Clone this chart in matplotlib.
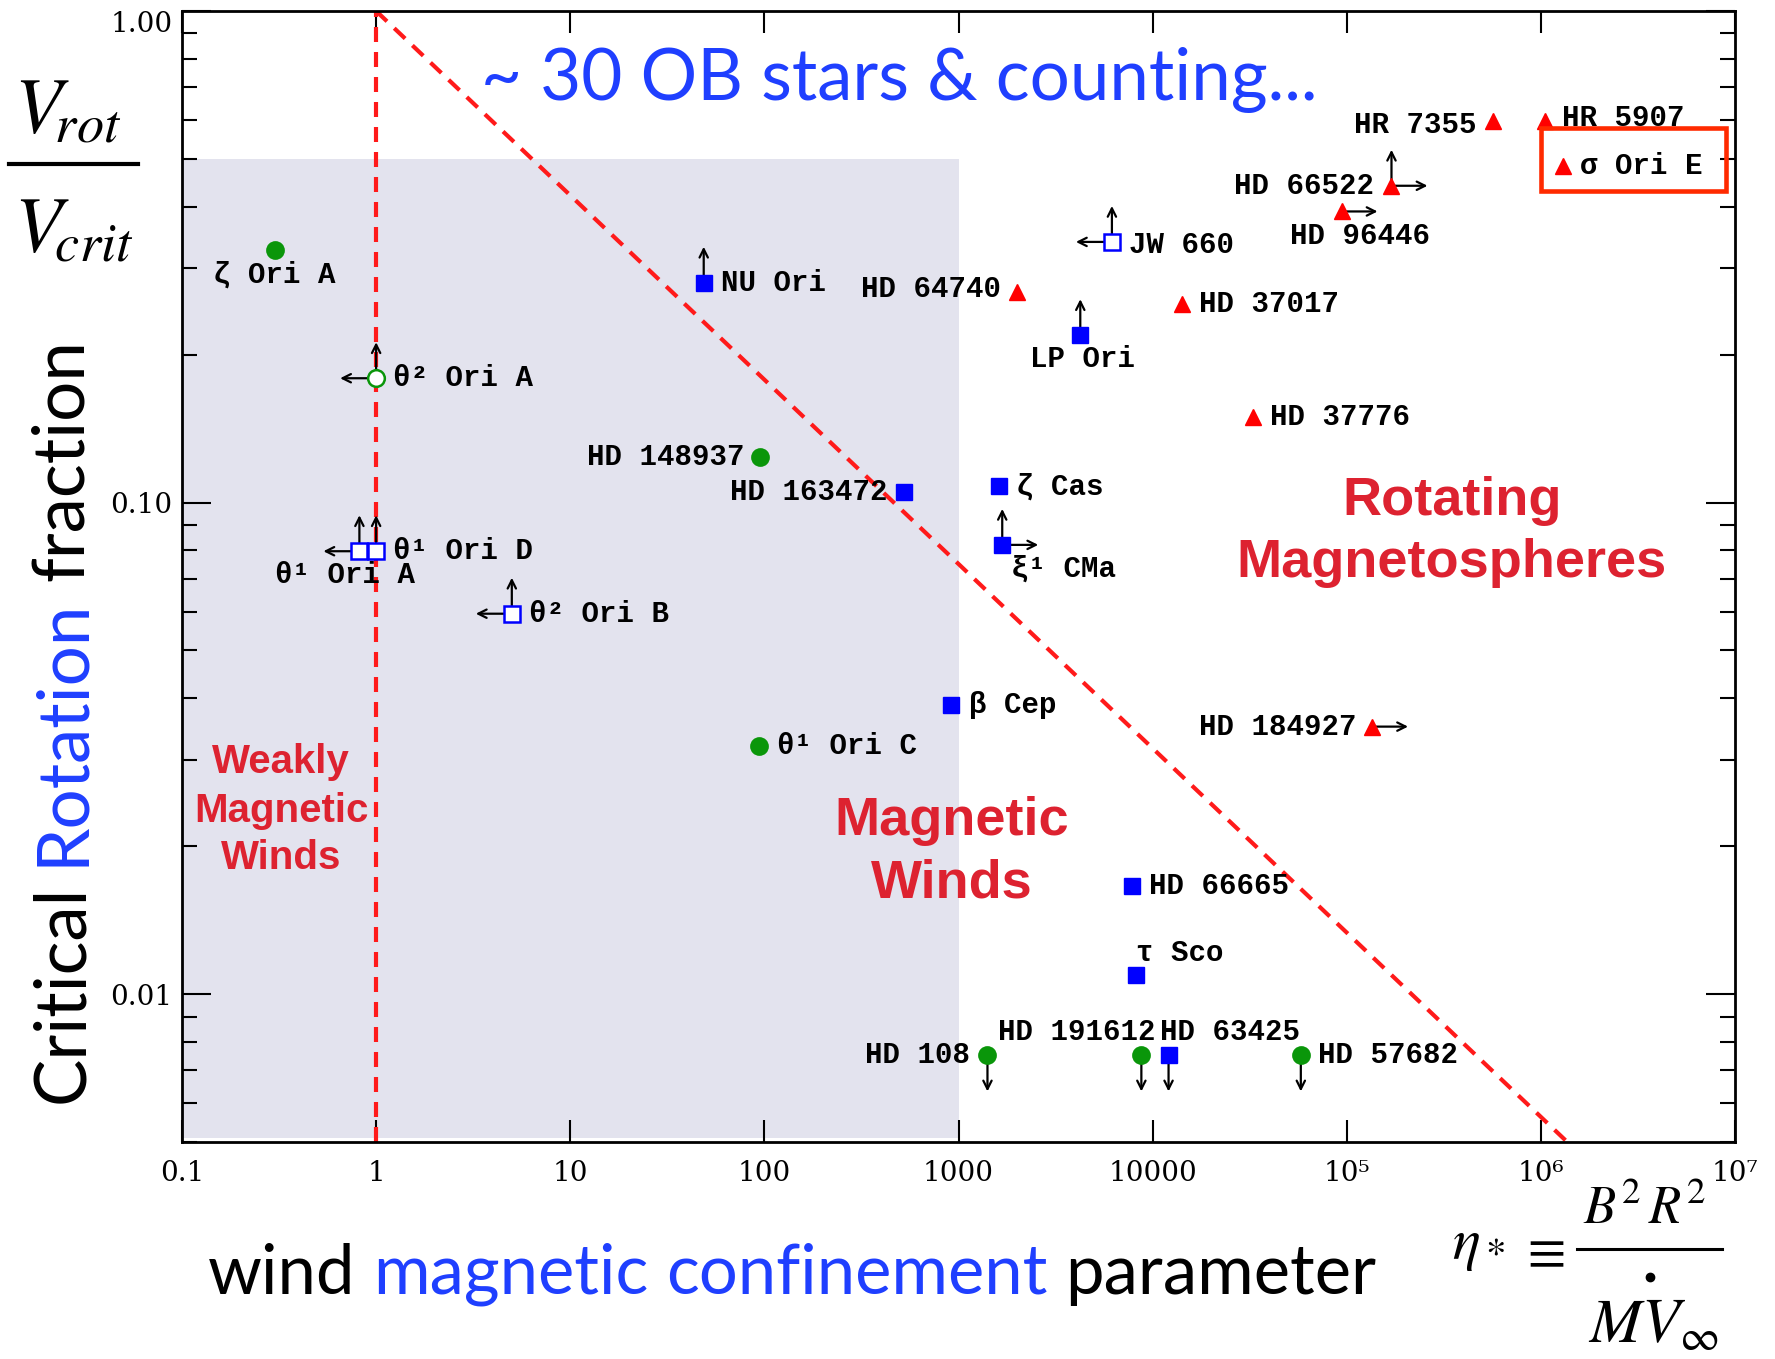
import matplotlib
matplotlib.use("Agg")
import matplotlib.pyplot as plt
from matplotlib.patches import Rectangle
from matplotlib.lines import Line2D
from matplotlib.transforms import IdentityTransform
from matplotlib.ticker import FixedLocator, NullLocator, LogLocator, FixedFormatter, NullFormatter

plt.rcParams["mathtext.fontset"] = "stix"

# ---------------------------------------------------------------- data
star_names = [
    "ζ Ori A", "θ² Ori A", "HD 148937", "θ¹ Ori C", "HD 108", "HD 191612", "HD 57682",
    "θ¹ Ori A", "θ¹ Ori D", "θ² Ori B", "JW 660", "NU Ori", "HD 163472", "ζ Cas",
    "ξ¹ CMa", "β Cep", "HD 66665", "τ Sco", "LP Ori", "HD 63425",
    "HD 64740", "HD 37017", "HD 37776", "HD 184927", "HD 96446", "HD 66522",
    "HR 7355", "HR 5907", "σ Ori E",
]
eta_star = [
    0.30, 1.0, 95, 94, 1410, 8750, 58000,
    0.82, 1.0, 5.0, 6170, 48.7, 522, 1610,
    1680, 918, 7850, 8180, 4240, 12080,
    2000, 14190, 33000, 135000, 94000, 170000,
    568000, 1.05e6, 1.30e6,
]
rot_fraction = [
    0.327, 0.179, 0.124, 0.032, 0.0075, 0.0075, 0.0075,
    0.0796, 0.0796, 0.0594, 0.339, 0.280, 0.105, 0.108,
    0.082, 0.0387, 0.01655, 0.01094, 0.219, 0.0075,
    0.268, 0.253, 0.149, 0.035, 0.391, 0.441,
    0.598, 0.598, 0.483,
]
# O = O-type wind star, B = B-type star, CM = centrifugal magnetosphere
star_group = [
    "O", "O", "O", "O", "O", "O", "O",
    "B", "B", "B", "B", "B", "B", "B",
    "B", "B", "B", "B", "B", "B",
    "CM", "CM", "CM", "CM", "CM", "CM",
    "CM", "CM", "CM",
]
# measurement is itself a limit (hollow symbol)
is_limit_point = [
    False, True, False, False, False, False, False,
    True, True, True, True, False, False, False,
    False, False, False, False, False, False,
    False, False, False, False, False, False,
    False, False, False,
]
# limit directions: u=up, d=down, l=left, r=right
limit_dirs = [
    "", "ul", "", "", "d", "d", "d",
    "ul", "u", "ul", "ul", "u", "", "",
    "ur", "", "", "", "u", "d",
    "", "", "", "r", "r", "ur",
    "", "", "",
]

x_tick_values = [0.1, 1, 10, 100, 1000, 1e4, 1e5, 1e6, 1e7]
x_tick_labels = ["0.1", "1", "10", "100", "1000", "10000", "10⁵", "10⁶", "10⁷"]
y_tick_values = [0.01, 0.1, 1.0]
y_tick_labels = ["0.01", "0.10", "1.00"]

# ---------------------------------------------------------------- layout
W, H, DPI = 1775, 1359, 100
fig = plt.figure(figsize=(W / DPI, H / DPI), dpi=DPI)
fig.patch.set_facecolor("white")


def fx(px):
    return px / W


def fy(py):
    return 1 - py / H


ax_l, ax_r, ax_t, ax_b = 182, 1735, 11, 1142
ax = fig.add_axes([fx(ax_l), fy(ax_b), (ax_r - ax_l) / W, (ax_b - ax_t) / H])
ax.set_xscale("log")
ax.set_yscale("log")
ax.set_xlim(0.1, 1e7)
ax.set_ylim(0.005, 1.0)

for sp in ax.spines.values():
    sp.set_linewidth(2.0)

ax.xaxis.set_major_locator(FixedLocator(x_tick_values))
ax.xaxis.set_major_formatter(FixedFormatter(x_tick_labels))
ax.xaxis.set_minor_locator(NullLocator())
ax.yaxis.set_major_locator(FixedLocator(y_tick_values))
ax.yaxis.set_major_formatter(FixedFormatter(y_tick_labels))
ax.yaxis.set_minor_locator(LogLocator(base=10, subs=[2, 3, 4, 5, 6, 7, 8, 9]))
ax.yaxis.set_minor_formatter(NullFormatter())
ax.tick_params(which="both", direction="in", top=True, right=True, width=1.5, color="black")
ax.tick_params(axis="x", which="major", length=16, pad=13)
ax.tick_params(axis="y", which="major", length=21, pad=7)
ax.tick_params(axis="y", which="minor", length=10.5)
for lab in ax.get_xticklabels() + ax.get_yticklabels():
    lab.set_fontfamily("DejaVu Serif")
    lab.set_fontsize(20)
# the top label sits just inside the frame
ax.get_yticklabels()[-1].set_verticalalignment("top")

# weak-confinement, slow-rotation region
ax.add_patch(Rectangle((0.1, 0.0051), 1000 - 0.1, 0.5 - 0.0051,
                       facecolor="#e3e3ee", edgecolor="none", zorder=0))

# eta = 1 boundary and Alfven radius = Kepler radius line  (W = eta^-3/8)
dash = (0, (3.6, 2.4))
ax.plot([1, 1], [0.005, 1.0], color="#ff1a1a", lw=3, ls=dash, zorder=2)
y_low = 0.005
x_end = y_low ** (-8.0 / 3.0)
ax.plot([1, x_end], [1.0, x_end ** (-3.0 / 8.0)], color="#ff1a1a", lw=3, ls=dash, zorder=2)

# ---------------------------------------------------------------- symbols
GREEN, BLUE, RED = "#0a960a", "#0000ff", "#ff0000"
style = {
    ("O", False): dict(marker="o", ms=12, mfc=GREEN, mec=GREEN, mew=1.5),
    ("O", True): dict(marker="o", ms=12, mfc="white", mec=GREEN, mew=1.8),
    ("B", False): dict(marker="s", ms=12, mfc=BLUE, mec=BLUE, mew=1.0),
    ("B", True): dict(marker="s", ms=12, mfc="white", mec=BLUE, mew=1.8),
    ("CM", False): dict(marker="^", ms=11, mfc=RED, mec=RED, mew=1.0),
}

arrow_len = 36
arrow_vec = {"u": (0, arrow_len), "d": (0, -arrow_len), "l": (-arrow_len, 0), "r": (arrow_len, 0)}

label_place = {
    "ζ Ori A": (0, -25, "center"), "θ² Ori A": (17, 0, "left"),
    "HD 148937": (-16, 0, "right"), "θ¹ Ori C": (18, 0, "left"),
    "HD 108": (-17, 0, "right"), "HD 191612": (14, 23, "right"),
    "HD 57682": (17, 0, "left"), "θ¹ Ori A": (-14, -24, "center"),
    "θ¹ Ori D": (17, 0, "left"), "θ² Ori B": (17, 0, "left"),
    "JW 660": (17, -3, "left"), "NU Ori": (17, 0, "left"),
    "HD 163472": (-16, 0, "right"), "ζ Cas": (17, 0, "left"),
    "ξ¹ CMa": (9, -24, "left"), "β Cep": (18, 0, "left"),
    "HD 66665": (17, 0, "left"), "τ Sco": (0, 22, "left"),
    "LP Ori": (2, -24, "center"), "HD 63425": (-9, 23, "left"),
    "HD 64740": (-16, 3, "right"), "HD 37017": (17, 0, "left"),
    "HD 37776": (17, 0, "left"), "HD 184927": (-16, 0, "right"),
    "HD 96446": (18, -25, "center"), "HD 66522": (-17, 0, "right"),
    "HR 7355": (-17, -4, "right"), "HR 5907": (17, 3, "left"),
    "σ Ori E": (17, 0, "left"),
}

label_font = dict(family="Liberation Mono", weight="bold", size=21)

for name, x, y, grp, hol, lim in zip(star_names, eta_star, rot_fraction,
                                     star_group, is_limit_point, limit_dirs):
    for d in lim:
        ax.annotate("", xy=(x, y), xytext=arrow_vec[d], textcoords="offset pixels",
                    arrowprops=dict(arrowstyle="<-,head_length=0.6,head_width=0.3",
                                    lw=1.6, color="black", shrinkA=0, shrinkB=0),
                    zorder=3)
    ax.plot([x], [y], ls="none", zorder=4, **style[(grp, hol)])
    dx, dy, ha = label_place[name]
    ax.annotate(name, xy=(x, y), xytext=(dx, dy), textcoords="offset pixels",
                ha=ha, va="center", color="black", zorder=5, **label_font)

# highlight box around sigma Ori E
i_sig = star_names.index("σ Ori E")
mx, my = ax.transData.transform((eta_star[i_sig], rot_fraction[i_sig]))
fig.add_artist(Rectangle((mx - 22, my - 25), 185, 63, transform=IdentityTransform(),
                         facecolor="none", edgecolor="#ff2a00", lw=3.3, zorder=10))

# ---------------------------------------------------------------- annotations
REDTXT, BLUETXT = "#dd2230", "#1f3fff"
region_font = dict(family="Liberation Sans", weight="bold", color=REDTXT, ha="center", va="baseline")
for txt, yb in [("Rotating", 515), ("Magnetospheres", 577)]:
    fig.text(fx(1452), fy(yb), txt, fontsize=39, **region_font)
for txt, yb in [("Magnetic", 835), ("Winds", 898)]:
    fig.text(fx(952), fy(yb), txt, fontsize=39, **region_font)
for txt, yb in [("Weakly", 773), ("Magnetic", 822), ("Winds", 869)]:
    fig.text(fx(281), fy(yb), txt, fontsize=29, **region_font)

fig.text(fx(899), fy(100), "~ 30 OB stars & counting...", fontsize=51,
         family="Lato", color=BLUETXT, ha="center", va="baseline")

renderer = fig.canvas.get_renderer()


def text_width(s, **kw):
    t = fig.text(0, 0, s, **kw)
    w = t.get_window_extent(renderer).width
    t.remove()
    return w


def multicolor_label(parts, cx, cy, vertical, **kw):
    words = [p for p, _ in parts]
    full = " ".join(words)
    total = text_width(full, **kw)
    starts = []
    for i, w in enumerate(words):
        prefix = " ".join(words[: i + 1])
        starts.append(text_width(prefix, **kw) - text_width(w, **kw))
    for (w, col), s in zip(parts, starts):
        if vertical:
            fig.text(fx(cx), fy(cy + total / 2 - s), w, color=col, rotation=90,
                     rotation_mode="anchor", ha="left", va="baseline", **kw)
        else:
            fig.text(fx(cx - total / 2 + s), fy(cy), w, color=col,
                     ha="left", va="baseline", **kw)


multicolor_label([("Critical", "black"), ("Rotation", BLUETXT), ("fraction", "black")],
                 83, 721, True, family="Lato", fontsize=51)
multicolor_label([("wind", "black"), ("magnetic", BLUETXT), ("confinement", BLUETXT),
                  ("parameter", "black")], 792, 1294, False, family="Lato", fontsize=49.5)

# V_rot / V_crit
fig.text(fx(14), fy(132), r"$V_{\!rot}$", fontsize=56, ha="left", va="baseline")
fig.text(fx(14), fy(251), r"$V_{\!crit}$", fontsize=56, ha="left", va="baseline")
fig.add_artist(Line2D([fx(9), fx(138)], [fy(164), fy(164)], color="black", lw=3,
                      transform=fig.transFigure))

# eta_* definition
fig.text(fx(1452), fy(1259), r"$\eta_*$", fontsize=42, ha="left", va="baseline")
fig.text(fx(1542), fy(1252), r"$\equiv$", fontsize=40, ha="center", va="center")
fig.text(fx(1645), fy(1224), r"$B^2\,R^2$", fontsize=38, ha="center", va="baseline")
fig.text(fx(1588), fy(1343), r"$MV_{\infty}$", fontsize=45, ha="left", va="baseline")
fig.add_artist(Line2D([fx(1577), fx(1722)], [fy(1249), fy(1249)], color="black", lw=2.2,
                      transform=fig.transFigure))
fig.add_artist(Line2D([fx(1650)], [fy(1277)], marker="o", ms=6, color="black",
                      transform=fig.transFigure))

fig.savefig("out.png", dpi=DPI)
